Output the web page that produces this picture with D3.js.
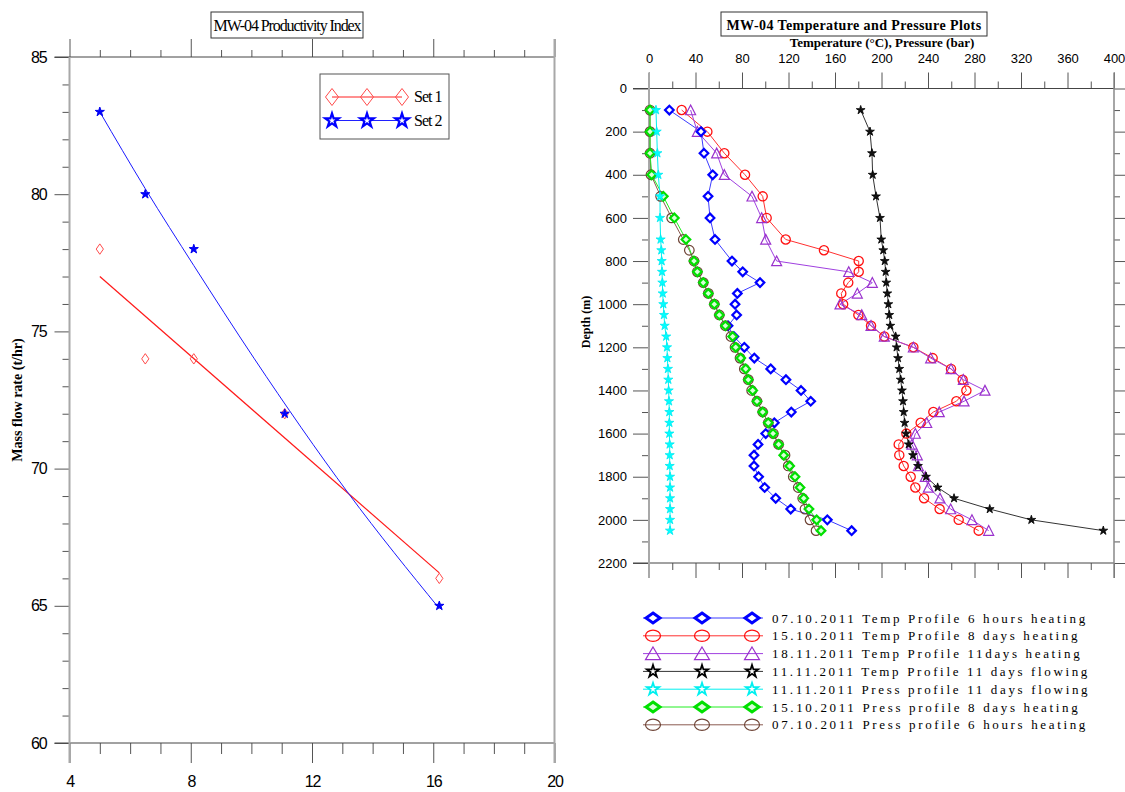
<!DOCTYPE html>
<html>
<head>
<meta charset="utf-8">
<script src="https://cdn.jsdelivr.net/npm/d3@7"></script>
<style>
  body { margin: 0; background: #fff; }
  svg { display: block; }
</style>
</head>
<body>
<svg id="chart" width="1125" height="792"></svg>
<script>
// ---------------- Productivity index (left panel) ----------------
const piTitle = "MW-04 Productivity Index";
const piYLabel = "Mass flow rate (t/hr)";
const piX = [5, 6.5, 8.1, 11.1, 16.2];
const set1Flow = [78, 74, 74, 72, 66];
const set2Flow = [83, 80, 78, 72, 65];
// fitted trend curves for each set, as [x, flow] points along the curve
const set1Trend = [[5, 77.0], [16.2, 66.2]];
const set2Trend = [[5, 83.0], [6.5, 80.2], [8.1, 77.4], [10.1, 74.0], [13.2, 69.1], [16.2, 64.9]];
const piXTicks = [4, 8, 12, 16, 20];
const piYTicks = [60, 65, 70, 75, 80, 85];
const piSetNames = ["Set 1", "Set 2"];

// ---------------- Temperature / pressure profiles (right panel) ----------------
const tpTitle = "MW-04 Temperature and Pressure Plots";
const tpXLabel = "Temperature (\u00B0C), Pressure (bar)";
const tpYLabel = "Depth (m)";
const tempTicks = [0, 40, 80, 120, 160, 200, 240, 280, 320, 360, 400];
const depthTicks = [0, 200, 400, 600, 800, 1000, 1200, 1400, 1600, 1800, 2000, 2200];

const depthAll = [100, 200, 300, 400, 500, 600, 700, 750, 800, 850, 900, 950, 1000, 1050, 1100, 1150,
  1200, 1250, 1300, 1350, 1400, 1450, 1500, 1550, 1600, 1650, 1700, 1750, 1800, 1850, 1900, 1950, 2000, 2050];
const depthNo750 = [100, 200, 300, 400, 500, 600, 700, 800, 850, 900, 950, 1000, 1050, 1100, 1150,
  1200, 1250, 1300, 1350, 1400, 1450, 1500, 1550, 1600, 1650, 1700, 1750, 1800, 1850, 1900, 1950, 2000, 2050];

// 07.10.2011 temperature, 6 hours heating (depthNo750)
const temp6Hours = [17.5, 44.7, 47.3, 54.8, 50.8, 52.5, 56.8, 71.4, 80.6, 95.5, 76, 74, 75.4, 68, 73,
  82, 90.6, 104.7, 117.8, 130.8, 139.1, 122.4, 107.8, 100.4, 93.8, 90.3, 90.3, 94.3, 99.5, 109, 121.9, 153.4, 174.3];
// 15.10.2011 temperature, 8 days heating (depthAll)
const temp8Days = [28.1, 50.2, 64.8, 82.6, 97.8, 101.2, 117.6, 150.5, 180.4, 180.4, 171.4, 165.4, 167, 180.1, 191, 202.4,
  227.4, 244, 259.8, 269.8, 273, 264.4, 244.6, 233.7, 221.4, 214.8, 215.3, 219.1, 225.1, 229.1, 236.6, 250, 266.4, 283.6];
// 18.11.2011 temperature, 11 days heating (depthNo750)
const temp11DaysHeat = [35.8, 41.6, 58.2, 64.8, 88.6, 96.9, 100.4, 109.8, 171.8, 192.1, 179.2, 164.3, 183, 191, 202.4,
  227.4, 242.3, 259.8, 270.4, 289, 271, 249.7, 238.9, 229.1, 226.2, 230.8, 231.7, 237.7, 240.3, 250.3, 259.5, 277.8, 292.2];
// 11.11.2011 temperature, 11 days flowing (depthAll)
const temp11DaysFlow = [182.1, 190.1, 191.8, 192.4, 195.3, 198.7, 199.8, 201.5, 202.8, 203.6, 204.1, 205, 205.9, 206.7, 207.6, 212.2,
  213, 214.2, 215.3, 216.5, 217.6, 218.5, 219.1, 219.9, 221.1, 223.4, 227.1, 231.4, 238.3, 248.3, 262.4, 293.1, 328.9, 390.8];
// 11.11.2011 pressure, 11 days flowing (depthAll)
const press11DaysFlow = [6.0, 6.6, 7.2, 8.0, 9.5, 9.5, 10, 10.6, 10.9, 11.2, 11.5, 11.8, 12.3, 12.9, 13.5, 14.8,
  15.5, 15.8, 16.3, 16.6, 16.9, 17.2, 17.5, 17.5, 17.5, 17.8, 17.8, 17.8, 18.1, 18.1, 18.1, 18.1, 18.1, 18.1];
// 15.10.2011 pressure, 8 days heating (depthNo750)
const press8Days = [0.9, 0.9, 0.9, 2.3, 12.3, 21.8, 31.8, 38.7, 41.6, 46.7, 51, 56.2, 60.5, 65.7, 72,
  74.6, 78.9, 83.2, 85.4, 89.2, 92.9, 97.8, 102.6, 106.7, 111.5, 115.9, 121, 125.6, 129.9, 133.1, 137.6, 144.2, 148];
// 07.10.2011 pressure, 6 hours heating (depthAll)
const press6Hours = [0.9, 0.9, 0.9, 1.7, 10, 19.5, 29.5, 34.7, 38.7, 41.6, 46.7, 51, 56.2, 60.5, 65.7, 70.5,
  74, 78.3, 82, 85.4, 88.3, 92.9, 97.8, 102.6, 107, 111.5, 117, 119.8, 124.1, 128.4, 132.2, 134.2, 138.5, 143.7];

const profileNames = [
  "07.10.2011 Temp Profile 6 hours heating",
  "15.10.2011 Temp Profile 8 days heating",
  "18.11.2011 Temp Profile 11days heating",
  "11.11.2011 Temp Profile 11 days flowing",
  "11.11.2011 Press profile 11 days flowing",
  "15.10.2011 Press profile 8 days heating",
  "07.10.2011 Press profile 6 hours heating"
];

// ---------------- helpers ----------------
const svg = d3.select("#chart");
const SANS = "'Liberation Sans', Arial, sans-serif";
const SERIF = "'Liberation Serif', 'Times New Roman', serif";

function diamondPath(w, h) { return `M0,${-h}L${w},0L0,${h}L${-w},0Z`; }
function trianglePath(w, h) { return `M0,${-h * 0.6}L${w},${h * 0.55}L${-w},${h * 0.55}Z`; }
function starPath(size) { return d3.symbol(d3.symbolStar, size)(); }

// marker painters: (selection, isLegend)
const markerKinds = {
  piDiamond: (g, big) => g.append("path").attr("d", big ? diamondPath(6.5, 8.5) : diamondPath(3.6, 5.2))
    .attr("fill", "none").attr("stroke", "#ff4a4a").attr("stroke-width", 1),
  piStar: (g, big) => big
    ? g.append("path").attr("d", starPath(58)).attr("fill", "#fff").attr("stroke", "#0000ff").attr("stroke-width", 2.2)
    : g.append("path").attr("d", starPath(26)).attr("fill", "#0000ff").attr("stroke", "#0000ee").attr("stroke-width", 1),
  blueDiamond: (g, big) => g.append("path").attr("d", big ? diamondPath(7, 5) : diamondPath(4.3, 4.3))
    .attr("fill", "#fff").attr("stroke", "#0000ff").attr("stroke-width", big ? 3 : 2.2),
  redCircle: (g, big) => g.append("ellipse").attr("rx", big ? 7.5 : 4.6).attr("ry", big ? 5.6 : 4.6)
    .attr("fill", "none").attr("stroke", "#ff1010").attr("stroke-width", 1.3),
  purpleTri: (g, big) => g.append("path").attr("d", big ? trianglePath(7.5, 11) : trianglePath(5, 8.5))
    .attr("fill", "none").attr("stroke", "#9a32cd").attr("stroke-width", 1.2),
  blackStar: (g, big) => big
    ? g.append("path").attr("d", starPath(46)).attr("fill", "#fff").attr("stroke", "#000").attr("stroke-width", 1.8)
    : g.append("path").attr("d", starPath(24)).attr("fill", "#111").attr("stroke", "#000").attr("stroke-width", 0.8),
  cyanStar: (g, big) => big
    ? g.append("path").attr("d", starPath(46)).attr("fill", "#fff").attr("stroke", "#00f0f0").attr("stroke-width", 1.8)
    : g.append("path").attr("d", starPath(26)).attr("fill", "#00ffff").attr("stroke", "#00e8f0").attr("stroke-width", 0.8),
  greenDiamond: (g, big) => g.append("path").attr("d", big ? diamondPath(7, 5) : diamondPath(4.3, 4.3))
    .attr("fill", "#d8ffd8").attr("stroke", "#00e000").attr("stroke-width", big ? 3 : 2.2),
  brownCircle: (g, big) => g.append("ellipse").attr("rx", big ? 7.5 : 4.8).attr("ry", big ? 5.6 : 4.8)
    .attr("fill", "none").attr("stroke", "#6e4436").attr("stroke-width", 1.2)
};

function styleAxis(g, opts) {
  g.select(".domain").remove();
  g.selectAll(".tick line").attr("stroke", opts.tick || "#555").attr("stroke-width", 1);
  g.selectAll(".tick text")
    .attr("font-family", SANS)
    .attr("font-size", opts.fontSize || 13)
    .attr("letter-spacing", opts.spacing || 0)
    .attr("fill", "#000");
  return g;
}

function minorValues(lo, hi, step, majors) {
  return d3.range(lo, hi + step / 2, step).filter(v => !majors.some(m => Math.abs(m - v) < 1e-9));
}

// ================= Left panel =================
const xPI = d3.scaleLinear().domain([4, 20]).range([69.5, 554.5]);
const yPI = d3.scaleLinear().domain([60, 85]).range([743, 57]);

const left = svg.append("g");

// bottom axis: labelled majors + minors
styleAxis(left.append("g").attr("transform", `translate(0,${yPI(60)})`)
  .call(d3.axisBottom(xPI).tickValues(piXTicks).tickSize(20).tickPadding(13).tickFormat(d3.format("d"))),
  { fontSize: 16, spacing: -1.2 });
styleAxis(left.append("g").attr("transform", `translate(0,${yPI(60)})`)
  .call(d3.axisBottom(xPI).tickValues(minorValues(4, 20, 1, piXTicks)).tickSize(11).tickFormat("")), {});
// top axis: ticks only, pointing up
styleAxis(left.append("g").attr("transform", `translate(0,${yPI(85)})`)
  .call(d3.axisTop(xPI).tickValues(piXTicks).tickSize(18).tickFormat("")), {});
styleAxis(left.append("g").attr("transform", `translate(0,${yPI(85)})`)
  .call(d3.axisTop(xPI).tickValues(minorValues(4, 20, 1, piXTicks)).tickSize(7).tickFormat("")), {});
// left axis
styleAxis(left.append("g").attr("transform", `translate(${xPI(4)},0)`)
  .call(d3.axisLeft(yPI).tickValues(piYTicks).tickSize(15).tickPadding(8).tickFormat(d3.format("d"))),
  { fontSize: 16, spacing: -1.2 });
styleAxis(left.append("g").attr("transform", `translate(${xPI(4)},0)`)
  .call(d3.axisLeft(yPI).tickValues(minorValues(60, 85, 1, piYTicks)).tickSize(7).tickFormat("")), {});

// frame
left.append("line").attr("x1", xPI(4) - 15).attr("x2", xPI(20)).attr("y1", yPI(85)).attr("y2", yPI(85))
  .attr("stroke", "#444").attr("stroke-width", 1);
left.append("line").attr("x1", xPI(4) - 15).attr("x2", xPI(20)).attr("y1", yPI(60)).attr("y2", yPI(60))
  .attr("stroke", "#444").attr("stroke-width", 1);
left.append("line").attr("x1", xPI(4)).attr("x2", xPI(4)).attr("y1", yPI(85)).attr("y2", yPI(60) + 20)
  .attr("stroke", "#a8a8a8").attr("stroke-width", 2);
left.append("line").attr("x1", xPI(20)).attr("x2", xPI(20)).attr("y1", yPI(85) - 18).attr("y2", yPI(60) + 20)
  .attr("stroke", "#a8a8a8").attr("stroke-width", 2);

// trend curves
const piLine = d3.line().x(d => xPI(d[0])).y(d => yPI(d[1])).curve(d3.curveMonotoneX);
left.append("path").attr("d", piLine(set1Trend)).attr("fill", "none").attr("stroke", "#ff1a1a").attr("stroke-width", 1.2);
left.append("path").attr("d", piLine(set2Trend)).attr("fill", "none").attr("stroke", "#1a1aff").attr("stroke-width", 1);

// points
piX.forEach((x, i) => {
  markerKinds.piDiamond(left.append("g").attr("transform", `translate(${xPI(x)},${yPI(set1Flow[i])})`), false);
});
piX.forEach((x, i) => {
  markerKinds.piStar(left.append("g").attr("transform", `translate(${xPI(x)},${yPI(set2Flow[i])})`), false);
});

// title box
const piTitleG = left.append("g");
piTitleG.append("rect").attr("x", 211).attr("y", 12).attr("width", 152).attr("height", 26)
  .attr("fill", "#fff").attr("stroke", "#333").attr("stroke-width", 1);
piTitleG.append("text").attr("x", 287).attr("y", 30.5).attr("text-anchor", "middle")
  .attr("font-family", SERIF).attr("font-size", 16).attr("letter-spacing", -1.1).text(piTitle);

// y label
left.append("text").attr("transform", `translate(22,400) rotate(-90)`).attr("text-anchor", "middle")
  .attr("font-family", SERIF).attr("font-weight", "bold").attr("font-size", 14).text(piYLabel);

// legend
const piLeg = left.append("g");
piLeg.append("rect").attr("x", 320).attr("y", 74).attr("width", 129).attr("height", 65)
  .attr("fill", "#fff").attr("stroke", "#555").attr("stroke-width", 1);
const piLegKinds = ["piDiamond", "piStar"];
const piLegColors = ["#ff2020", "#2020ff"];
piSetNames.forEach((name, i) => {
  const y = 97 + i * 23.5;
  piLeg.append("line").attr("x1", 332).attr("x2", 402).attr("y1", y).attr("y2", y)
    .attr("stroke", piLegColors[i]).attr("stroke-width", 1);
  [332, 367, 402].forEach(x => markerKinds[piLegKinds[i]](piLeg.append("g").attr("transform", `translate(${x},${y})`), true));
  piLeg.append("text").attr("x", 414).attr("y", y + 5).attr("font-family", SERIF).attr("font-size", 16)
    .attr("letter-spacing", -1).text(name);
});

// ================= Right panel =================
const xT = d3.scaleLinear().domain([0, 400]).range([649, 1114]);
const yD = d3.scaleLinear().domain([0, 2200]).range([88.5, 563]);
const right = svg.append("g");

const tempMinor = minorValues(0, 400, 20, tempTicks);
const depthMinor = minorValues(0, 2200, 100, depthTicks);

styleAxis(right.append("g").attr("transform", `translate(0,${yD(0)})`)
  .call(d3.axisTop(xT).tickValues(tempTicks).tickSize(16).tickPadding(10).tickFormat(d3.format("d"))), { fontSize: 13 });
styleAxis(right.append("g").attr("transform", `translate(0,${yD(0)})`)
  .call(d3.axisTop(xT).tickValues(tempMinor).tickSize(7).tickFormat("")), {});
styleAxis(right.append("g").attr("transform", `translate(0,${yD(2200)})`)
  .call(d3.axisBottom(xT).tickValues(tempTicks).tickSize(15).tickFormat("")), {});
styleAxis(right.append("g").attr("transform", `translate(0,${yD(2200)})`)
  .call(d3.axisBottom(xT).tickValues(tempMinor).tickSize(7).tickFormat("")), {});
styleAxis(right.append("g").attr("transform", `translate(${xT(0)},0)`)
  .call(d3.axisLeft(yD).tickValues(depthTicks).tickSize(16).tickPadding(6).tickFormat(d3.format("d"))), { fontSize: 13 });
styleAxis(right.append("g").attr("transform", `translate(${xT(0)},0)`)
  .call(d3.axisLeft(yD).tickValues(depthMinor).tickSize(7).tickFormat("")), {});
styleAxis(right.append("g").attr("transform", `translate(${xT(400)},0)`)
  .call(d3.axisRight(yD).tickValues(depthTicks).tickSize(11).tickFormat("")), {});
styleAxis(right.append("g").attr("transform", `translate(${xT(400)},0)`)
  .call(d3.axisRight(yD).tickValues(depthMinor).tickSize(6).tickFormat("")), {});

// frame
right.append("line").attr("x1", xT(0) - 16).attr("x2", xT(400)).attr("y1", yD(0)).attr("y2", yD(0))
  .attr("stroke", "#444").attr("stroke-width", 1);
right.append("line").attr("x1", xT(0) - 16).attr("x2", xT(400)).attr("y1", yD(2200)).attr("y2", yD(2200))
  .attr("stroke", "#444").attr("stroke-width", 1);
right.append("line").attr("x1", xT(0)).attr("x2", xT(0)).attr("y1", yD(0) - 16).attr("y2", yD(2200) + 15)
  .attr("stroke", "#a8a8a8").attr("stroke-width", 2);
right.append("line").attr("x1", xT(400)).attr("x2", xT(400)).attr("y1", yD(0) - 16).attr("y2", yD(2200) + 15)
  .attr("stroke", "#888").attr("stroke-width", 1.5);

// profile series
const profiles = [
  { name: profileNames[0], depth: depthNo750, value: temp6Hours, line: "#3c3cff", kind: "blueDiamond" },
  { name: profileNames[1], depth: depthAll, value: temp8Days, line: "#ff3030", kind: "redCircle" },
  { name: profileNames[2], depth: depthNo750, value: temp11DaysHeat, line: "#a040e0", kind: "purpleTri" },
  { name: profileNames[3], depth: depthAll, value: temp11DaysFlow, line: "#333", kind: "blackStar" },
  { name: profileNames[4], depth: depthAll, value: press11DaysFlow, line: "#00f0f0", kind: "cyanStar" },
  { name: profileNames[5], depth: depthNo750, value: press8Days, line: "#22ee22", kind: "greenDiamond" },
  { name: profileNames[6], depth: depthAll, value: press6Hours, line: "#8a5a50", kind: "brownCircle" }
];

const profLine = d3.line().x(d => xT(d[0])).y(d => yD(d[1]));
const drawOrder = [1, 2, 0, 6, 5, 4, 3];
drawOrder.forEach(k => {
  const p = profiles[k];
  const pts = p.value.map((v, i) => [v, p.depth[i]]);
  right.append("path").attr("d", profLine(pts)).attr("fill", "none").attr("stroke", p.line).attr("stroke-width", 1);
});
drawOrder.forEach(k => {
  const p = profiles[k];
  p.value.forEach((v, i) => {
    markerKinds[p.kind](right.append("g").attr("transform", `translate(${xT(v)},${yD(p.depth[i])})`), false);
  });
});

// titles
const tpTitleG = right.append("g");
tpTitleG.append("rect").attr("x", 721).attr("y", 12).attr("width", 266).attr("height", 24)
  .attr("fill", "#fff").attr("stroke", "#333").attr("stroke-width", 1);
tpTitleG.append("text").attr("x", 854).attr("y", 30).attr("text-anchor", "middle")
  .attr("font-family", SERIF).attr("font-weight", "bold").attr("font-size", 14).attr("letter-spacing", 0.4)
  .text(tpTitle);
right.append("text").attr("x", 882).attr("y", 47).attr("text-anchor", "middle")
  .attr("font-family", SERIF).attr("font-weight", "bold").attr("font-size", 13).text(tpXLabel);
right.append("text").attr("transform", `translate(590,322) rotate(-90)`).attr("text-anchor", "middle")
  .attr("font-family", SERIF).attr("font-weight", "bold").attr("font-size", 12).text(tpYLabel);

// legend below the profile plot
const tpLeg = right.append("g");
profiles.forEach((p, i) => {
  const y = 618 + i * 17.8;
  tpLeg.append("line").attr("x1", 643).attr("x2", 763).attr("y1", y).attr("y2", y)
    .attr("stroke", p.line).attr("stroke-width", 1);
  [653, 702, 752].forEach(x => markerKinds[p.kind](tpLeg.append("g").attr("transform", `translate(${x},${y})`), true));
  tpLeg.append("text").attr("x", 772).attr("y", y + 4.5).attr("font-family", SERIF).attr("font-size", 13)
    .attr("letter-spacing", 2.65).attr("fill", "#000").text(p.name);
});
</script>
</body>
</html>
